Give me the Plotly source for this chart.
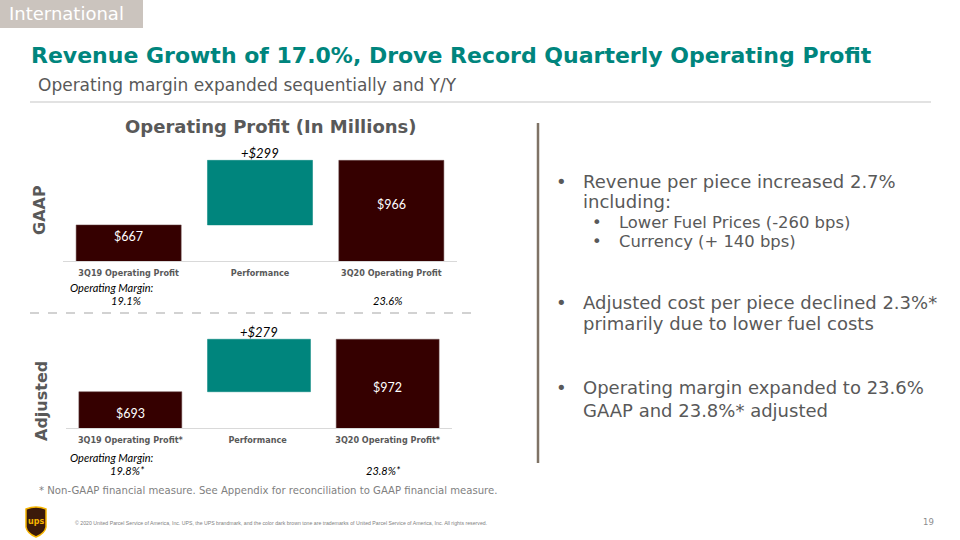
import plotly.graph_objects as go

# ---------------- data ----------------
gaap_categories = ["3Q19 Operating Profit", "Performance", "3Q20 Operating Profit"]
gaap_values = [667, 299, 966]
adj_categories = ["3Q19 Operating Profit*", "Performance ", "3Q20 Operating Profit*"]
adj_values = [693, 279, 972]
measures = ["absolute", "relative", "total"]
gaap_margins = ["19.1%", "23.6%"]
adj_margins = ["19.8%*", "23.8%*"]
y_range = [500, 1000]

title = "Revenue Growth of 17.0%, Drove Record Quarterly Operating Profit"
subtitle = "Operating margin expanded sequentially and Y/Y"
chart_title = "Operating Profit (In Millions)"
bullets = [
    ("main", ["Revenue per piece increased 2.7%", "including:"]),
    ("sub", ["Lower Fuel Prices (-260 bps)"]),
    ("sub", ["Currency (+ 140 bps)"]),
    ("main", ["Adjusted cost per piece declined 2.3%*", "primarily due to lower fuel costs"]),
    ("main", ["Operating margin expanded to 23.6%", "GAAP and 23.8%* adjusted"]),
]
footnote = "* Non-GAAP financial measure. See Appendix for reconciliation to GAAP financial measure."
copyright_txt = ("© 2020 United Parcel Service of America, Inc. UPS, the UPS brandmark, and the color dark brown tone "
                 "are trademarks of United Parcel Service of America, Inc. All rights reserved.")

# ---------------- style ----------------
W, H = 960, 540
TEAL = "#00857D"
BROWN = "#350000"
GRAY = "#595959"
VERD = "DejaVu Sans, Verdana, sans-serif"
CAL = "Lato, Carlito, Calibri, sans-serif"


def X(px):
    return px / W


def Y(py):
    return 1 - py / H


fig = go.Figure()

for cats, vals, xa, ya in [(gaap_categories, gaap_values, "x", "y"),
                           (adj_categories, adj_values, "x2", "y2")]:
    fig.add_trace(go.Waterfall(
        x=cats, y=vals, measure=measures, xaxis=xa, yaxis=ya,
        increasing=dict(marker=dict(color=TEAL, line=dict(color=TEAL, width=0.5))),
        totals=dict(marker=dict(color=BROWN, line=dict(color="#6b4a4a", width=0.5))),
        decreasing=dict(marker=dict(color=BROWN)),
        connector=dict(visible=False), textinfo="none", hoverinfo="skip",
        showlegend=False,
    ))

axis_common = dict(showline=True, linecolor="#D9D9D9", linewidth=1, ticks="",
                   tickfont=dict(family=VERD, size=8.1, color=GRAY, weight="bold"),
                   ticklabelstandoff=4,
                   showgrid=False, zeroline=False, fixedrange=True)
yaxis_common = dict(range=y_range, visible=False, showgrid=False, zeroline=False, fixedrange=True)

fig.update_layout(
    width=W, height=H, margin=dict(l=0, r=0, t=0, b=0),
    paper_bgcolor="white", plot_bgcolor="rgba(0,0,0,0)",
    bargap=0.225,
    xaxis=dict(domain=[X(63), X(457)], anchor="y", **axis_common),
    yaxis=dict(domain=[Y(261), Y(153)], anchor="x", **yaxis_common),
    xaxis2=dict(domain=[X(66), X(452)], anchor="y2", **axis_common),
    yaxis2=dict(domain=[Y(428), Y(334)], anchor="x2", **yaxis_common),
)

ann = []
shapes = []


def txt(px, py, text, size, color=GRAY, family=VERD, xanchor="left", weight="normal", style="normal", **kw):
    ann.append(dict(x=X(px), y=Y(py), xref="paper", yref="paper", xanchor=xanchor, yanchor="middle",
                    text=text, showarrow=False,
                    font=dict(family=family, size=size, color=color, weight=weight, style=style), **kw))


# value labels
for cats, vals, xr, yr, shift in [(gaap_categories, gaap_values, "x", "y", 6),
                                  (adj_categories, adj_values, "x2", "y2", -4)]:
    for i in (0, 2):
        ann.append(dict(x=cats[i], y=(y_range[0] + vals[i]) / 2, xref=xr, yref=yr,
                        xanchor="center", yanchor="middle",
                        text=f"${vals[i]}", showarrow=False, yshift=shift,
                        font=dict(family=CAL, size=12.5, color="white")))
    ann.append(dict(x=cats[1], y=vals[0] + vals[1], xref=xr, yref=yr,
                    xanchor="center", yanchor="bottom",
                    text=f"+${vals[1]}", showarrow=False, yshift=-3,
                    font=dict(family=CAL, size=13, color="black", style="italic")))

# margins
for cats, margins, xr, ylab, yval in [(gaap_categories, gaap_margins, "x", 287, 300),
                                      (adj_categories, adj_margins, "x2", 457, 470)]:
    txt(68, ylab, "Operating Margin:", 11, color="black", family=CAL, style="italic")
    for c, m, dx in [(cats[0], margins[0], -3), (cats[2], margins[1], -4)]:
        ann.append(dict(x=c, y=Y(yval), xref=xr, yref="paper", xanchor="center", yanchor="middle",
                        text=m, showarrow=False, xshift=dx,
                        font=dict(family=CAL, size=11, color="black", style="italic")))

# header
shapes.append(dict(type="rect", xref="paper", yref="paper", x0=0, x1=X(143), y0=Y(28), y1=Y(0),
                   fillcolor="#CBC4BE", line=dict(width=0)))
txt(7, 14, "International", 18, color="white")
txt(29, 55, title, 22, color=TEAL, weight="bold")
txt(36, 85, subtitle, 17)
shapes.append(dict(type="line", xref="paper", yref="paper", x0=X(30), x1=X(931), y0=Y(102), y1=Y(102),
                   line=dict(color="#D9D9D9", width=1.5)))

# chart title & side labels
txt(271, 126, chart_title, 18, xanchor="center", weight="bold")
txt(40, 210, "GAAP", 16, xanchor="center", weight="bold", textangle=-90)
txt(41, 401, "Adjusted", 16, xanchor="center", weight="bold", textangle=-90)

# dashed separator
shapes.append(dict(type="line", xref="paper", yref="paper", x0=X(30), x1=X(480), y0=Y(313), y1=Y(313),
                   line=dict(color="#A6A6A6", width=1.2, dash="dash")))

# footnote
txt(37, 490, footnote, 10.1, color="#7F7F7F")

# vertical divider
shapes.append(dict(type="line", xref="paper", yref="paper", x0=X(538), x1=X(538), y0=Y(123), y1=Y(463),
                   line=dict(color="#7F7366", width=2.5)))

# bullets
line_y = {0: [181, 202], 1: [222], 2: [241], 3: [302, 323], 4: [387, 410]}
for idx, (kind, lines) in enumerate(bullets):
    if kind == "main":
        bx, tx, fs = 554, 581, 18
    else:
        bx, tx, fs = 590, 617, 16.4
    ys = line_y[idx]
    txt(bx, ys[0], "•", fs)
    for ln, yy in zip(lines, ys):
        txt(tx, yy, ln, fs)


# footer: UPS shield logo
def p(px, py):
    return f"{X(px):.5f},{Y(py):.5f}"


shield = (f"M {p(26,509)} Q {p(36,505)} {p(46,509)} L {p(46,527)} Q {p(45,533)} {p(36,537)} "
          f"Q {p(27,533)} {p(26,527)} Z")
shapes.append(dict(type="path", xref="paper", yref="paper", path=shield,
                   fillcolor="#3B1A0A", line=dict(color="#F5B400", width=1.5)))
txt(36, 521, "<b>ups</b>", 8, color="#F5B400", xanchor="center")
txt(73, 523, copyright_txt, 5.2, color="#7F7F7F", family="Liberation Sans Narrow, Liberation Sans")
txt(928, 522, "19", 8.5, color="#8C8C8C", xanchor="center")

fig.update_layout(annotations=ann, shapes=shapes)
fig.write_html("out.html", config={"displayModeBar": False},
               post_script="document.body.style.margin='0';document.body.style.overflow='hidden';")
